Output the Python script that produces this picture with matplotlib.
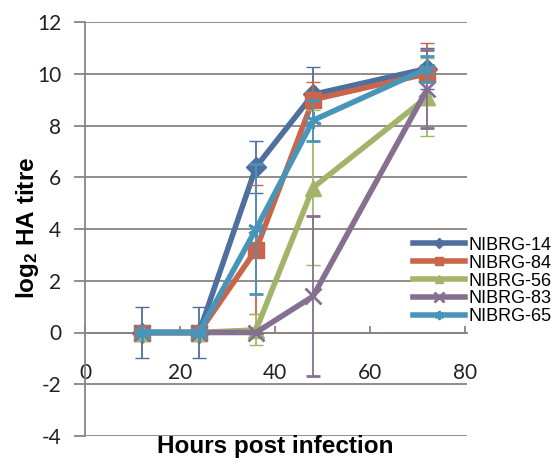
import matplotlib
matplotlib.use('Agg')
import matplotlib.pyplot as plt

# data
hours = [12, 24, 36, 48, 72]
names = ['NIBRG-14', 'NIBRG-84', 'NIBRG-56', 'NIBRG-83', 'NIBRG-65']
nibrg14 = [0, 0, 6.4, 9.2, 10.2]
nibrg84 = [0, 0, 3.2, 9.0, 10.0]
nibrg56 = [0, 0, 0.1, 5.6, 9.1]
nibrg83 = [0, 0, 0, 1.4, 9.4]
nibrg65 = [0, 0, 4.0, 8.2, 10.2]
err14 = [1, 1, 1, 1.05, 0.8]
err84 = [0, 0, 2.5, 0.7, 1.2]
err56 = [0, 0, 0.6, 3.0, 1.5]
err83 = [0, 0, 0, 3.1, 1.5]
err65 = [0, 0, 2.5, 0.8, 0.5]
yticks = [-4, -2, 0, 2, 4, 6, 8, 10, 12]
xticks = [0, 20, 40, 60, 80]

series = [nibrg14, nibrg84, nibrg56, nibrg83, nibrg65]
errors = [err14, err84, err56, err83, err65]
colors = ['#4f6f9f', '#c8654a', '#a3b46a', '#86708f', '#4796b9']
markers = ['D', 's', '^', 'x', (6, 2, 0)]
msizes = [10, 11, 11, 12, 12]

plt.rcParams['mathtext.fontset'] = 'custom'
plt.rcParams['mathtext.rm'] = 'Liberation Sans:bold'
plt.rcParams['mathtext.default'] = 'rm'
plt.rcParams['axes.unicode_minus'] = False

fig = plt.figure(figsize=(5.54, 4.68), dpi=100)
ax = fig.add_axes([85/554, 1-436/468, 382/554, 414/468])

lines = []
for i in range(5):
    c = ax.errorbar(hours, series[i], yerr=errors[i], color=colors[i], lw=4,
                    marker=markers[i], ms=msizes[i], mew=2 if i >= 3 else 1,
                    elinewidth=1.3, capsize=5, capthick=1.3, label=names[i], zorder=3+i)
    lines.append(c[0])

ax.set_xlim(0, 80.4)
ax.set_ylim(-4, 12)
ax.set_yticks(yticks)
ax.set_xticks(xticks)
ax.grid(axis='y', color='#8a8281', lw=1.3)
ax.set_axisbelow(True)
for s in ['top', 'right']:
    ax.spines[s].set_visible(False)
ax.spines['bottom'].set_position(('data', 0))
ax.spines['bottom'].set_color('#8a8281')
ax.spines['left'].set_color('#8a8281')
ax.spines['bottom'].set_linewidth(1.3)
ax.spines['left'].set_linewidth(1.3)
ax.tick_params(axis='y', colors='#8a8281', length=8, width=1.3, labelcolor='#222222', labelsize=15, pad=9)
ax.tick_params(axis='x', colors='#8a8281', length=5, width=1.3, direction='in', labelcolor='#222222',
               labelsize=15, pad=22)
for t in ax.get_xticklabels() + ax.get_yticklabels():
    t.set_fontfamily('Lato')

fig.text(28/554, 1-228/468, 'log$_{2}$ HA titre', rotation=90, ha='center', va='center',
         fontsize=17.5, fontweight='bold', family='Liberation Sans')
fig.text(275/554, 1-447/468, 'Hours post infection', ha='center', va='center',
         fontsize=17.5, fontweight='bold', family='Liberation Sans')

leg = ax.legend(lines, names, loc='center left', bbox_to_anchor=(413/554, 1-281/468),
                bbox_transform=fig.transFigure,
                frameon=True, fancybox=False, edgecolor='none', facecolor='white', framealpha=1,
                borderpad=0, borderaxespad=0, labelspacing=0.05, handlelength=2.9, handletextpad=0.15,
                markerscale=0.55, prop={'family': 'Liberation Sans', 'size': 13})
leg.set_zorder(20)

fig.savefig('out.png', dpi=100)
